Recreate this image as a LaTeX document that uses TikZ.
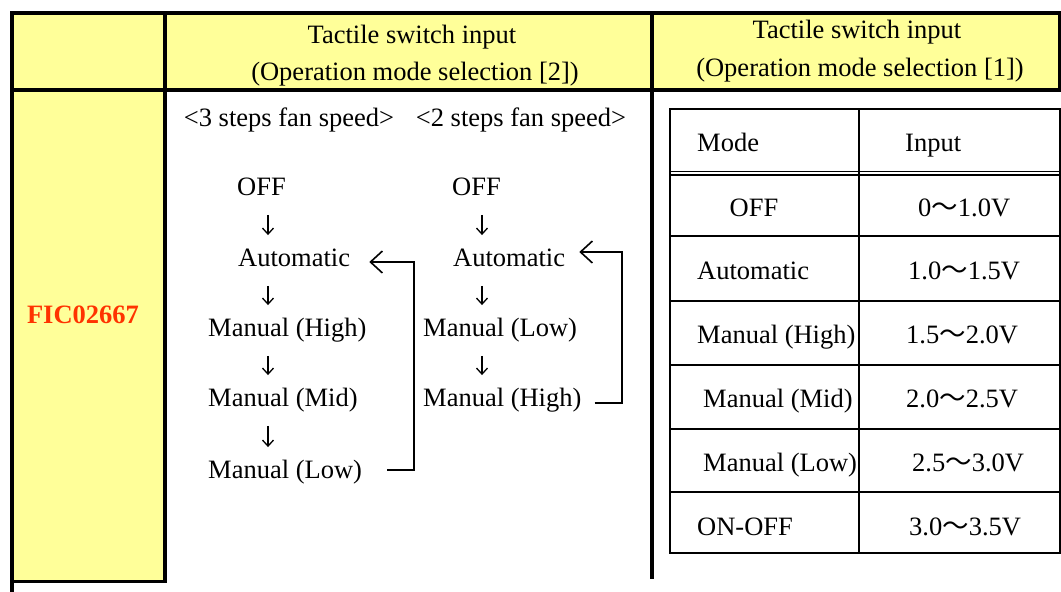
\documentclass[tikz,border=0pt]{standalone}
\usepackage{fontspec}
\setmainfont{Liberation Serif}
\newfontfamily\cjk{Noto Sans CJK JP}
\usepackage{xcolor}
\usetikzlibrary{arrows.meta}
\usetikzlibrary{calc}
\definecolor{myyellow}{RGB}{255, 255, 153}
\definecolor{myred}{RGB}{255, 51, 0}
\newcommand{\wave}{{\cjk 〜}}

\begin{document}
\begin{tikzpicture}[x=1pt, y=-1pt,
  every node/.style={inner sep=0pt, text height=17.5pt, text depth=0pt, font=\fontsize{26.5}{30}\selectfont},
  item/.style={anchor=west},
  down/.style={-{Straight Barb[length=6pt,width=11pt]}, line width=1.3pt, shorten <=19pt, shorten >=14pt},
  back/.style={-{Straight Barb[length=12pt,width=22pt]}, line width=1.6pt},
  grid/.style={line width=1.5pt},
]
\useasboundingbox (0,0) rectangle (1061,592);

%yellow cells
\fill[myyellow] (12,13) rectangle (1059,90);
\fill[myyellow] (12,90) rectangle (165,581);

%outer frame
\draw[line width=4pt] (10,13) -- (1061,13);
\draw[line width=4pt] (12,11) -- (12,592);
\draw[line width=4pt] (10,90) -- (1061,90);
\draw[line width=4pt] (165,11) -- (165,583);
\draw[line width=3pt] (10,581) -- (166,581);
\draw[line width=4pt] (652,11) -- (652,579);
\draw[line width=3pt] (1059,11) -- (1059,92);

%headers
\node (head2a) at (412,35) {Tactile switch input};
\node (head2b) at (415,72) {(Operation mode selection [2])};
\node (head1a) at (857,30) {Tactile switch input};
\node (head1b) at (860,68) {(Operation mode selection [1])};
\node[text=myred] (fic) at (83,315) {\bfseries FIC02667};

%fan speed sequences
\node (fan3) at (289,118) {<3 steps fan speed>};
\node (fan2) at (521,118) {<2 steps fan speed>};

\node[item] (off1) at (237,187) {OFF};
\node[item] (auto1) at (238,258) {Automatic};
\node[item] (high1) at (208,328) {Manual (High)};
\node[item] (mid1) at (208,398) {Manual (Mid)};
\node[item] (low1) at (208,470) {Manual (Low)};

\node[item] (off2) at (452,187) {OFF};
\node[item] (auto2) at (453,258) {Automatic};
\node[item] (low2) at (423,328) {Manual (Low)};
\node[item] (high2) at (423,398) {Manual (High)};

\coordinate (ax1) at (268,0);
\coordinate (ax2) at (482,0);
\coordinate (ret1) at (414,0);
\coordinate (ret2) at (622,0);

\draw[down] (off1.south -| ax1) -- (auto1.north -| ax1);
\draw[down] (auto1.south -| ax1) -- (high1.north -| ax1);
\draw[down] (high1.south -| ax1) -- (mid1.north -| ax1);
\draw[down] (mid1.south -| ax1) -- (low1.north -| ax1);
\draw[down] (off2.south -| ax2) -- (auto2.north -| ax2);
\draw[down] (auto2.south -| ax2) -- (low2.north -| ax2);
\draw[down] (low2.south -| ax2) -- (high2.north -| ax2);

\draw[back] ([xshift=25pt]low1.east) -| ([yshift=-4pt]ret1 |- auto1.east) -- ([xshift=19pt,yshift=-4pt]auto1.east);
\draw[back] ([xshift=13pt,yshift=-5pt]high2.east) -| ([yshift=6pt]ret2 |- auto2.east) -- ([xshift=14pt,yshift=6pt]auto2.east);

%voltage table
\draw[grid] (670,109) rectangle (1060,553);
\draw[grid] (859,109) -- (859,553);
\draw[line width=1pt] (670,171) -- (1060,171);
\draw[line width=2pt] (670,175) -- (1060,175);
\foreach \y in {236,301,365,429,492}{
  \draw[grid] (670,\y) -- (1060,\y);
}

\node[item] (mode) at (697,143) {Mode};
\node[item] (input) at (905,143) {Input};
\node (moff) at (754,208) {OFF};
\node[item] (mauto) at (697,271) {Automatic};
\node[item] (mhigh) at (697,335) {Manual (High)};
\node[item] (mmid) at (703,399) {Manual (Mid)};
\node[item] (mlow) at (703,463) {Manual (Low)};
\node[item] (monoff) at (697,527) {ON-OFF};

\node[item] (voff) at (918,208) {0\wave1.0V};
\node[item] (vauto) at (908,271) {1.0\wave1.5V};
\node[item] (vhigh) at (906,335) {1.5\wave2.0V};
\node[item] (vmid) at (906,399) {2.0\wave2.5V};
\node[item] (vlow) at (912,463) {2.5\wave3.0V};
\node[item] (vonoff) at (909,527) {3.0\wave3.5V};

\end{tikzpicture}
\end{document}
